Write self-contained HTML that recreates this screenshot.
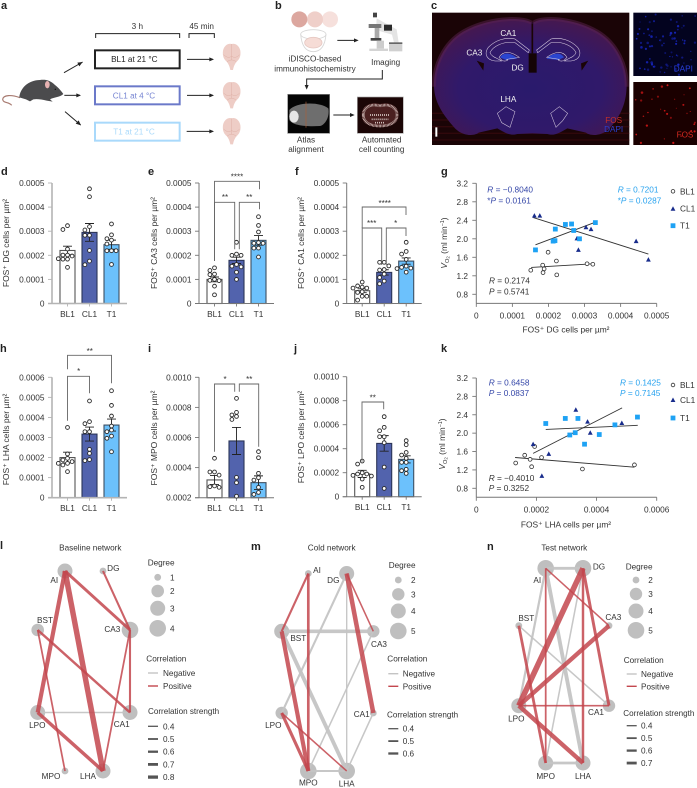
<!DOCTYPE html>
<html lang="en">
<head>
<meta charset="utf-8">
<title>FOS expression figure</title>
<style>
html,body{margin:0;padding:0;background:#fff;width:697px;height:788px;overflow:hidden}
svg{display:block;font-family:"Liberation Sans",Arial,sans-serif}
text{fill:#333}
.pl{font-weight:bold;font-size:11px;fill:#222}
</style>
</head>
<body>
<svg id="fig" xmlns="http://www.w3.org/2000/svg" width="697" height="788" viewBox="0 0 697 788">
<defs>
  <g id="brain">
    <path d="M0,-38C-8,-41-22,-36-26,-18C-28,-2-24,8-14,16C-10,22-6,28-4,40L4,40C6,28 10,22 14,16C24,8 28,-2 26,-18C22,-36 8,-41 0,-38Z" fill="#eecdc6"/>
    <path d="M0,-38L0,10M-24,-6C-14,4-6,4 0,-2C6,4 14,4 24,-6M-14,16C-6,8 6,8 14,16" fill="none" stroke="#deb0a6" stroke-width="1.5"/>
  </g>
  <radialGradient id="brainGrad" cx="50%" cy="60%" r="62%">
    <stop offset="0" stop-color="#2a1a6c"/><stop offset="0.6" stop-color="#30196a"/><stop offset="1" stop-color="#47184e"/>
  </radialGradient>
</defs>

<text class="pl" x="1" y="9">a</text>
<text class="pl" x="275" y="9">b</text>
<text class="pl" x="431" y="9">c</text>

<!-- Panel a -->
<g transform="scale(0.33333)">
  <g>
    <path d="M60,293C35,284 10,284 8,298C10,311 26,304 35,316" fill="none" stroke="#a87a70" stroke-width="3.5"/>
    <path d="M58,292C60,265 85,240 120,240C135,238 150,240 165,255C175,262 185,275 190,282C180,292 160,292 150,298L158,305L140,302C125,298 110,296 100,298L90,304L78,298Z" fill="#4b4b4d"/>
    <ellipse cx="142" cy="254" rx="7" ry="11" fill="#e6b1b1"/>
    <circle cx="166" cy="268" r="2" fill="#111"/>
  </g>
  <path d="M192,218L248,186" stroke="#222" stroke-width="3" fill="none"/><path d="M248,186L232,188L238,199Z" fill="#222"/>
  <path d="M193,286L240,286" stroke="#222" stroke-width="3" fill="none"/><path d="M243,286L229,280L229,292Z" fill="#222"/>
  <path d="M195,335L242,375" stroke="#222" stroke-width="3" fill="none"/><path d="M243,376L236,361L227,371Z" fill="#222"/>
  <path d="M287,114V101H539V114" fill="none" stroke="#222" stroke-width="3"/>
  <path d="M567,114V101H643V114" fill="none" stroke="#222" stroke-width="3"/>
  <text x="412" y="87" font-size="24.6" text-anchor="middle">3 h</text>
  <text x="605" y="87" font-size="24.6" text-anchor="middle">45 min</text>
  <rect x="285" y="151" width="254" height="54" fill="#fff" stroke="#222" stroke-width="6"/>
  <rect x="285" y="259" width="254" height="54" fill="#fff" stroke="#6b79c9" stroke-width="6"/>
  <rect x="285" y="368" width="254" height="54" fill="#fff" stroke="#a9d9fb" stroke-width="6"/>
  <text x="403" y="186" font-size="24.6" text-anchor="middle" style="fill:#222">BL1 at 21 °C</text>
  <text x="402" y="296" font-size="24.6" text-anchor="middle" style="fill:#7785d2">CL1 at 4 °C</text>
  <text x="402" y="404" font-size="24.6" text-anchor="middle" style="fill:#aadafb">T1 at 21 °C</text>
  <path d="M561,178H638" stroke="#222" stroke-width="3"/><path d="M642,178L628,172V184Z" fill="#222"/>
  <path d="M561,286H638" stroke="#222" stroke-width="3"/><path d="M642,286L628,280V292Z" fill="#222"/>
  <path d="M560,394H638" stroke="#222" stroke-width="3"/><path d="M642,394L628,388V400Z" fill="#222"/>
  <use href="#brain" x="695" y="170"/>
  <use href="#brain" x="695" y="285"/>
  <use href="#brain" x="695" y="393"/>
</g>

<!-- Panel b -->
<g transform="scale(0.33333)">
  <g>
    <circle cx="990" cy="58" r="24" fill="#f6e0dc"/><circle cx="945" cy="58" r="24" fill="#efcfc9"/><circle cx="898" cy="58" r="24" fill="#dca79f"/>
  </g>
  <g fill="none" stroke="#d6d6d6" stroke-width="2.5">
    <ellipse cx="940" cy="103" rx="38" ry="14"/><path d="M902,103C905,140 920,155 940,155C960,155 975,140 978,103"/>
    <ellipse cx="940" cy="128" rx="26" ry="16" fill="#f6dcd6" stroke="#e6c8c2"/>
  </g>
  <text x="945" y="185" font-size="24.6" text-anchor="middle">iDISCO-based</text>
  <text x="945" y="214" font-size="24.6" text-anchor="middle">immunohistochemistry</text>
  <path d="M1012,121H1072" stroke="#222" stroke-width="3"/><path d="M1076,121L1062,115V127Z" fill="#222"/>
  <g>
    <path d="M1130,55L1190,88L1196,128L1182,128L1176,104L1128,90Z" fill="#e4e4e4"/>
    <rect x="1119" y="38" width="12" height="14" fill="#444"/>
    <rect x="1152" y="74" width="24" height="18" fill="#2a2a2a"/>
    <rect x="1106" y="72" width="38" height="12" fill="#777"/>
    <rect x="1124" y="84" width="14" height="30" fill="#aaa"/>
    <rect x="1112" y="114" width="32" height="8" fill="#444"/>
    <rect x="1130" y="122" width="22" height="24" fill="#ccc"/>
    <rect x="1108" y="146" width="56" height="7" fill="#d4d4d4"/>
    <rect x="1167" y="130" width="40" height="24" fill="#d0d0d0"/><rect x="1167" y="127" width="40" height="5" fill="#666"/>
  </g>
  <text x="1157" y="195" font-size="24.6" text-anchor="middle">Imaging</text>
  <path d="M1147,210V237H920V264" fill="none" stroke="#222" stroke-width="3"/><path d="M920,269L914,255H926Z" fill="#222"/>
  <g>
    <rect x="863" y="283" width="126" height="117" fill="#050505" stroke="#888" stroke-width="2"/>
    <path d="M868,330C890,305 960,305 985,325C990,350 975,375 960,378C920,380 880,378 868,360Z" fill="#6e6e6e"/>
    <ellipse cx="882" cy="350" rx="14" ry="18" fill="#e6e6e6"/>
    <rect x="917" y="305" width="2" height="78" fill="#a8603a"/>
  </g>
  <text x="918" y="428" font-size="24.6" text-anchor="middle">Atlas</text>
  <text x="918" y="456" font-size="24.6" text-anchor="middle">alignment</text>
  <path d="M1000,345H1060" stroke="#222" stroke-width="3"/><path d="M1064,345L1050,339V351Z" fill="#222"/>
  <g>
    <rect x="1072" y="291" width="138" height="109" fill="#1b0606" stroke="#aaa" stroke-width="2"/>
    <path d="M1085,345C1085,315 1115,305 1140,312C1165,305 1196,315 1196,345C1196,370 1170,382 1140,382C1110,382 1085,370 1085,345Z" fill="#4a2020"/>
    <path d="M1090,345C1090,320 1115,310 1140,318C1165,310 1191,320 1191,345C1191,368 1168,378 1140,378C1112,378 1090,368 1090,345Z" fill="none" stroke="#d8c8c4" stroke-width="8" stroke-dasharray="2 2"/>
    <path d="M1110,345H1170M1115,358H1165M1125,368H1155" stroke="#d0c0bc" stroke-width="5" stroke-dasharray="3 3"/>
  </g>
  <text x="1145" y="428" font-size="24.6" text-anchor="middle">Automated</text>
  <text x="1145" y="456" font-size="24.6" text-anchor="middle">cell counting</text>
</g>

<!-- Panel c -->
<g transform="translate(420,0) scale(0.33333)">
  <rect x="36" y="38" width="592" height="397" fill="#1a0406"/>
  <path d="M36,340H628M36,360H628M36,380H628M36,400H628M36,420H628" stroke="#3a0a0e" stroke-width="4" opacity="0.7"/>
  <path d="M335,68C300,48 200,55 130,95C70,130 40,200 42,260C44,310 70,345 105,385C130,410 165,408 176,398L232,385C258,400 272,408 292,402L337,400L382,402C402,408 416,400 442,385L498,398C509,408 544,410 569,385C604,345 618,310 620,260C622,200 592,130 532,95C462,55 370,48 340,68Z" fill="url(#brainGrad)"/>
  <path d="M335,68C300,48 200,55 130,95C70,130 40,200 42,260M340,68C370,48 462,55 532,95C592,130 622,200 620,260" fill="none" stroke="#5a2250" stroke-width="12" opacity="0.5"/>
  <path d="M337,70V160" stroke="#1a0406" stroke-width="5"/>
  <path d="M170,182L190,212L192,190ZM505,182L485,212L483,190Z" fill="#1a0406"/>
  <path d="M326,160V218H350V160Z" fill="#140406"/>
  <path d="M240,172C250,155 275,158 292,176L258,180Z" fill="#2a45d0"/>
  <path d="M432,172C422,155 397,158 380,176L414,180Z" fill="#2a45d0"/>
  <g fill="none" stroke="#d8cce0" stroke-width="1.6">
    <path d="M328,150L285,117C255,110 225,122 205,142C192,160 198,180 225,183L245,183C235,175 215,172 210,158C218,140 250,122 285,128L325,158Z"/>
    <path d="M237,172C250,150 275,155 298,172L260,178C270,182 250,186 245,180Z"/>
    <path d="M350,150L393,117C423,110 453,122 473,142C486,160 480,180 453,183L433,183C443,175 463,172 468,158C460,140 428,122 393,128L353,158Z"/>
    <path d="M441,172C428,150 403,155 380,172L418,178C408,182 428,186 433,180Z"/>
  </g>
  <g fill="none" stroke="#d8cce0" stroke-width="1.6">
    <path d="M232,340L258,320L285,335L270,382L245,368Z"/><path d="M443,340L418,320L392,340L408,382L428,362Z"/>
  </g>
  <text x="265" y="108" font-size="24.6" text-anchor="middle" style="fill:#f2f2f2">CA1</text>
  <text x="163" y="167" font-size="24.6" text-anchor="middle" style="fill:#f2f2f2">CA3</text>
  <text x="293" y="211" font-size="24.6" text-anchor="middle" style="fill:#f2f2f2">DG</text>
  <text x="265" y="306" font-size="24.6" text-anchor="middle" style="fill:#f2f2f2">LHA</text>
  <text x="581" y="369" font-size="24.6" text-anchor="middle" style="fill:#c4302a">FOS</text>
  <text x="581" y="396" font-size="24.6" text-anchor="middle" style="fill:#2a40cc">DAPI</text>
  <rect x="46" y="382" width="6" height="28" fill="#fff"/>
  <rect x="640" y="38" width="191" height="190" fill="#03031f"/>
  <rect x="640" y="246" width="191" height="189" fill="#1a0000"/>
  <g id="dapiDots" fill="#1a2ad0"></g>
  <g id="fosDots" fill="#e01818"></g>
  <text x="790" y="215" font-size="24.6" text-anchor="middle" style="fill:#2a40e0">DAPI</text>
  <text x="795" y="412" font-size="24.6" text-anchor="middle" style="fill:#d42a20">FOS</text>
</g>
<g id="charts"></g>
</svg>

<script>
// ---------- bar chart data (values in units of 1e-4 cells per µm²) ----------
const categories = ['BL1', 'CL1', 'T1'];
const ticks0to5 = ['0', '0.0001', '0.0002', '0.0003', '0.0004', '0.0005'];
const ticks0to6 = ['0', '0.0001', '0.0002', '0.0003', '0.0004', '0.0005', '0.0006'];
const ticks2to10 = ['0.0002', '0.0004', '0.0006', '0.0008', '0.0010'];
const ticks0to10 = ['0', '0.0002', '0.0004', '0.0006', '0.0008', '0.0010'];

const dBL1 = [3.23, 3.07, 2.26, 2.01, 1.97, 2.01, 1.86, 1.84, 1.84, 1.5];
const dCL1 = [4.76, 4.43, 3.19, 3.05, 2.83, 2.83, 2.2, 1.76, 1.61];
const dT1 = [3.3, 2.85, 2.69, 2.63, 2.47, 2.19, 2.19, 2.19, 1.62];
const dMeans = [2.2, 2.95, 2.44];
const dSem = [0.18, 0.37, 0.19];

const eBL1 = [1.48, 1.37, 1.22, 1.2, 1.0, 0.96, 0.95, 0.72, 0.36];
const eCL1 = [2.54, 2.05, 2.0, 2.0, 1.62, 1.55, 1.52, 1.3, 1.0];
const eT1 = [3.6, 3.24, 2.97, 2.53, 2.5, 2.5, 2.3, 2.3, 1.93];
const eMeans = [1.0, 1.79, 2.62];
const eSem = [0.1, 0.13, 0.2];

const fBL1 = [0.89, 0.73, 0.68, 0.64, 0.64, 0.49, 0.46, 0.3, 0.3, 0.14];
const fCL1 = [1.71, 1.71, 1.56, 1.41, 1.39, 1.22, 1.08, 0.93, 0.82];
const fT1 = [2.54, 2.16, 2.05, 1.83, 1.55, 1.5, 1.47, 1.45, 1.3];
const fMeans = [0.53, 1.29, 1.76];
const fSem = [0.08, 0.11, 0.13];

const hBL1 = [3.5, 2.18, 1.96, 1.88, 1.8, 1.71, 1.71, 1.63, 1.3];
const hCL1 = [4.82, 3.79, 3.69, 3.29, 3.29, 2.41, 2.21, 1.9, 1.85];
const hT1 = [5.33, 4.6, 4.07, 3.57, 3.37, 3.29, 3.07, 2.96, 2.29];
const hMeans = [2.0, 3.17, 3.62];
const hSem = [0.27, 0.35, 0.3];

const iBL1 = [4.62, 3.71, 3.71, 3.5, 2.78, 2.73, 2.69];
const iCL1 = [8.6, 7.67, 7.5, 7.4, 7.2, 3.35, 3.0, 2.1];
const iT1 = [5.06, 4.66, 3.62, 3.33, 3.17, 2.69, 2.35, 2.22];
const iMeans = [3.18, 5.77, 3.0];
const iSem = [0.3, 0.9, 0.45];

const jBL1 = [2.97, 2.72, 2.0, 1.89, 1.89, 1.78, 1.72, 1.47, 0.78];
const jCL1 = [6.67, 5.78, 5.5, 5.0, 5.0, 4.5, 2.47, 0.69];
const jT1 = [4.67, 4.33, 3.69, 3.47, 3.2, 2.86, 2.86, 2.28, 2.17, 1.94];
const jMeans = [1.9, 4.44, 3.11];
const jSem = [0.3, 0.65, 0.3];

// ---------- scatter data ----------
const yTicksV = ['0.8', '1.2', '1.6', '2.0', '2.4', '2.8', '3.2'];
const gXTicks = ['0', '0.0001', '0.0002', '0.0003', '0.0004', '0.0005'];
const kXTicks = ['0', '0.0002', '0.0004', '0.0006'];

const gBL1x = [0.000151, 0.000184, 0.000188, 0.000185, 0.000199, 0.000222, 0.000223, 0.000307, 0.000323];
const gBL1y = [1.32, 1.43, 1.35, 1.27, 1.71, 1.52, 1.22, 1.46, 1.45];
const gCL1x = [0.000161, 0.000176, 0.000279, 0.000283, 0.000304, 0.000318, 0.000443, 0.000477];
const gCL1y = [2.5, 2.5, 2.01, 1.76, 2.25, 2.21, 1.95, 1.55];
const gT1x = [0.000164, 0.000213, 0.000218, 0.000219, 0.000247, 0.000264, 0.00027, 0.000286, 0.00033];
const gT1y = [1.76, 1.95, 1.96, 2.21, 2.31, 2.32, 2.18, 2.0, 2.35];
const gFitBL1 = [0.000152, 1.38, 0.000323, 1.46];
const gFitCL1 = [0.000158, 2.46, 0.000477, 1.67];
const gFitT1 = [0.000164, 1.87, 0.00033, 2.36];

const kBL1x = [0.000131, 0.000161, 0.000179, 0.000184, 0.000194, 0.000217, 0.000353, 0.000526];
const kBL1y = [1.35, 1.52, 1.43, 1.27, 1.71, 1.47, 1.22, 1.31];
const kCL1x = [0.000189, 0.000218, 0.000241, 0.000331, 0.00037, 0.000379, 0.000484];
const kCL1y = [1.76, 1.07, 1.55, 2.51, 2.25, 2.01, 2.22];
const kT1x = [0.000231, 0.000296, 0.000311, 0.000329, 0.000338, 0.00036, 0.000409, 0.000461, 0.000536];
const kT1y = [2.21, 2.32, 1.96, 2.01, 2.32, 1.76, 1.97, 2.18, 2.35];
const kFitBL1 = [0.000129, 1.47, 0.000526, 1.26];
const kFitCL1 = [0.000189, 1.56, 0.000485, 2.55];
const kFitT1 = [0.000231, 2.08, 0.000537, 2.17];

// ---------- network data ----------
const regions = ['AI', 'DG', 'BST', 'CA3', 'LPO', 'CA1', 'MPO', 'LHA'];
const lDegree = [3, 1, 2, 4, 3, 3, 1, 3];
const mDegree = [2, 4, 4, 3, 3, 2, 5, 5];
const nDegree = [5, 5, 2, 2, 4, 3, 4, 4];
const lEdges = [['LPO','CA1',-0.4],['AI','LHA',0.98],['AI','LPO',0.8],['AI','CA3',0.62],['DG','CA3',0.5],['BST','CA1',0.55],['BST','MPO',0.45],['CA3','CA1',0.5],['CA3','LHA',0.45],['LPO','LHA',0.7]];
const mEdges = [['DG','LPO',-0.5],['DG','LHA',-0.4],['BST','CA3',-0.72],['BST','LHA',-0.75],['CA3','MPO',-0.42],['CA1','LHA',-0.42],['MPO','LHA',-0.5],['AI','BST',0.5],['AI','MPO',0.58],['DG','CA3',0.42],['DG','CA1',0.85],['BST','MPO',0.8],['LPO','MPO',0.65],['LPO','LHA',0.42]];
const nEdges = [['AI','DG',-0.6],['AI','LPO',-0.52],['AI','LHA',-0.75],['DG','MPO',-0.42],['BST','CA1',-0.42],['MPO','LHA',-0.6],['AI','MPO',0.45],['AI','CA3',0.42],['DG','LPO',1.0],['DG','LHA',0.55],['DG','CA1',0.62],['BST','MPO',0.6],['CA3','LPO',0.82],['LPO','CA1',0.42],['LPO','LHA',0.82]];

// ---------- helpers ----------
const SVGNS = 'http://www.w3.org/2000/svg';
const root = document.getElementById('charts');
function mk(tag, attrs, name, parent, interact) {
  const el = document.createElementNS(SVGNS, tag);
  for (const k in attrs) el.setAttributeNS(null, k, attrs[k]);
  
  
  (parent || root).appendChild(el);
  return el;
}
function T(p, x, y, s, name, o) {
  o = o || {};
  const a = {x: x, y: y, 'font-size': o.size || 8.3, 'text-anchor': o.anchor || 'start'};
  if (o.rot) a.transform = 'rotate(-90 ' + x + ' ' + y + ')';
  if (o.bold) a['font-weight'] = 'bold';
  const el = mk('text', a, name, p);
  if (o.color) el.style.fill = o.color;
  if (o.rich) el.innerHTML = s; else el.textContent = s;
  return el;
}
const tickToUnit = t => parseFloat(t) * 1e4;

function swarm(vals, cx, scale) {
  const spacing = 4.6, minD = 3.9, placed = [];
  const sorted = vals.slice().sort((a, b) => b - a);
  sorted.forEach(v => {
    const y = scale(v);
    for (const off of [0, -spacing, spacing, -spacing * 2, spacing * 2]) {
      const x = cx + off;
      if (!placed.some(p => Math.hypot(p.x - x, p.y - y) < minD)) { placed.push({x: x, y: y}); return; }
    }
    placed.push({x: cx, y: y});
  });
  return placed;
}

function barChart(c) {
  const g = mk('g', {}, 'bar-chart-' + c.id);
  const dom = c.ticks.map(tickToUnit);
  const dMin = dom[0], dMax = dom[dom.length - 1];
  const sy = v => c.y0 - (v - dMin) / (dMax - dMin) * (c.y0 - c.yTop);
  const sx = i => c.ax + 15.5 + i * 22;
  const axCol = c.light ? '#b4b4b4' : '#777', axW = c.light ? 1.6 : 1;
  categories.forEach((cat, i) => {
    const top = sy(c.means[i]);
    const fills = ['#ffffff', '#5263ad', '#6cc1fc'];
    const strokes = ['#555', '#2c3558', '#3e4f62'];
    mk('rect', {x: sx(i) - 7.5, y: top, width: 15, height: c.y0 - top, fill: fills[i], stroke: strokes[i], 'stroke-width': 1.1}, 'bar-' + c.id + '-' + cat, g);
  });
  mk('line', {x1: c.ax, x2: c.ax, y1: c.yTop, y2: c.y0, stroke: axCol, 'stroke-width': axW}, 'y-axis-' + c.id, g);
  mk('line', {x1: c.ax - 4, x2: c.ax + 75, y1: c.y0, y2: c.y0, stroke: axCol, 'stroke-width': axW}, 'x-axis-' + c.id, g);
  c.ticks.forEach((t, i) => {
    const y = sy(dom[i]);
    mk('line', {x1: c.ax - 4, x2: c.ax, y1: y, y2: y, stroke: axCol, 'stroke-width': 0.9}, 'y-tick-' + c.id, g);
    T(g, c.ax - 7.5, y + 3, t, 'y-tick-label-' + c.id, {anchor: 'end'});
  });
  categories.forEach((cat, i) => {
    mk('line', {x1: sx(i), x2: sx(i), y1: c.y0, y2: c.y0 + 3, stroke: axCol, 'stroke-width': 0.9}, 'x-tick-' + c.id, g);
    T(g, sx(i), c.y0 + 13.5, cat, 'x-tick-label-' + c.id, {anchor: 'middle'});
    const e = sy(c.means[i] + c.sem[i]), b = sy(c.means[i] - c.sem[i]);
    mk('path', {d: 'M' + (sx(i) - 4.5) + ',' + e + 'H' + (sx(i) + 4.5) + 'M' + sx(i) + ',' + e + 'V' + b + 'M' + (sx(i) - 4.5) + ',' + b + 'H' + (sx(i) + 4.5), fill: 'none', stroke: '#222', 'stroke-width': 0.9}, 'error-bar-' + c.id + '-' + cat, g);
    swarm(c.series[i], sx(i), sy).forEach(p => {
      mk('circle', {cx: p.x, cy: p.y, r: 1.9, fill: '#fff', stroke: '#2a2a2a', 'stroke-width': 0.9}, 'data-point-' + c.id + '-' + cat, g);
    });
  });
  T(g, c.titleX, c.titleY, c.title, 'y-axis-title-' + c.id, {anchor: 'middle', rot: true, size: 8.5});
  (c.brackets || []).forEach(b => {
    mk('path', {d: 'M' + b[0] + ',' + b[3] + 'V' + b[2] + 'H' + b[1] + 'V' + b[4], fill: 'none', stroke: '#666', 'stroke-width': 0.9}, 'significance-bracket-' + c.id, g);
  });
  (c.stars || []).forEach(s => {
    T(g, s[0], s[1] + 4.2, s[2], 'significance-label-' + c.id, {anchor: 'middle', size: 8});
  });
}

function scatter(c) {
  const g = mk('g', {}, 'scatter-' + c.id);
  const sx = v => 476.3 + v / c.xMax * 180.4;
  const sy = v => c.y08 - (v - 0.8) / 2.4 * (c.y08 - c.y32);
  const yBottom = c.yBottom;
  mk('line', {x1: 476.3, x2: 476.3, y1: c.y32, y2: yBottom, stroke: '#777', 'stroke-width': 1}, 'y-axis-' + c.id, g);
  mk('line', {x1: 476.3, x2: 656.7, y1: yBottom, y2: yBottom, stroke: '#777', 'stroke-width': 1}, 'x-axis-' + c.id, g);
  yTicksV.forEach(t => {
    const y = sy(parseFloat(t));
    mk('line', {x1: 472.3, x2: 476.3, y1: y, y2: y, stroke: '#777', 'stroke-width': 0.9}, 'y-tick-' + c.id, g);
    T(g, 468, y + 3, t, 'y-tick-label-' + c.id, {anchor: 'end'});
  });
  c.xTicks.forEach(t => {
    const x = sx(parseFloat(t));
    mk('line', {x1: x, x2: x, y1: yBottom, y2: yBottom + 3.5, stroke: '#777', 'stroke-width': 0.9}, 'x-tick-' + c.id, g);
    T(g, x, yBottom + 15, t, 'x-tick-label-' + c.id, {anchor: 'middle'});
  });
  T(g, 566, yBottom + c.titleGap, c.xTitle, 'x-axis-title-' + c.id, {anchor: 'middle', size: 8.4});
  T(g, c.yTitleX, c.yTitleY, '<tspan font-style="italic">V</tspan><tspan font-size="5.6" dy="1.8">O</tspan><tspan font-size="4.4" dy="0.8">2</tspan><tspan dy="-2.6"> (ml min</tspan><tspan font-size="5.4" dy="-2.8">−1</tspan><tspan dy="2.8">)</tspan>', 'y-axis-title-' + c.id, {anchor: 'middle', rot: true, size: 8.4, rich: true});
  [c.fitBL1, c.fitCL1, c.fitT1].forEach((f, i) => {
    mk('line', {x1: sx(f[0]), y1: sy(f[1]), x2: sx(f[2]), y2: sy(f[3]), stroke: '#333', 'stroke-width': 0.9}, 'trend-line-' + c.id + '-' + categories[i], g);
  });
  c.bl1x.forEach((v, i) => {
    mk('circle', {cx: sx(v), cy: sy(c.bl1y[i]), r: 1.9, fill: '#fff', stroke: '#333', 'stroke-width': 0.8}, 'point-' + c.id + '-BL1', g);
  });
  c.cl1x.forEach((v, i) => {
    const x = sx(v), y = sy(c.cl1y[i]);
    mk('path', {d: 'M' + x + ',' + (y - 2.5) + 'L' + (x + 2.4) + ',' + (y + 2) + 'H' + (x - 2.4) + 'Z', fill: '#182c8c'}, 'point-' + c.id + '-CL1', g);
  });
  c.t1x.forEach((v, i) => {
    mk('rect', {x: sx(v) - 2.4, y: sy(c.t1y[i]) - 2.4, width: 4.8, height: 4.8, fill: '#1ea2f4'}, 'point-' + c.id + '-T1', g);
  });
  c.notes.forEach(n => {
    T(g, n[0], n[1], n[2], 'annotation-' + c.id, {color: n[3], rich: true, size: 8.3});
  });
  const ly = c.legendY;
  mk('circle', {cx: 673, cy: ly[0], r: 1.8, fill: '#fff', stroke: '#333', 'stroke-width': 0.8}, 'legend-marker-BL1-' + c.id, g);
  mk('path', {d: 'M673,' + (ly[1] - 2.5) + 'L675.4,' + (ly[1] + 2) + 'H670.6Z', fill: '#182c8c'}, 'legend-marker-CL1-' + c.id, g);
  mk('rect', {x: 670.6, y: ly[2] - 2.4, width: 4.8, height: 4.8, fill: '#1ea2f4'}, 'legend-marker-T1-' + c.id, g);
  categories.forEach((cat, i) => {
    T(g, 680, ly[i] + 3, cat, 'legend-label-' + c.id + '-' + cat);
  });
}

const edgeWidth = s => 7 * (s - 0.2);
const legendWidth = s => 1.3 + (s - 0.4) * 5;

function network(c) {
  const g = mk('g', {}, 'network-' + c.id);
  const radii = c.radii;
  const pos = {};
  regions.forEach((r, i) => { pos[r] = {x: c.cols[c.colIdx[i]], y: c.rows[c.rowIdx[i]]}; });
  regions.forEach((r, i) => {
    mk('circle', {cx: pos[r].x, cy: pos[r].y, r: radii[c.degree[i]], fill: '#bfbfbf'}, 'node-' + c.id + '-' + r, g);
  });
  c.edges.forEach(e => {
    const a = pos[e[0]], b = pos[e[1]], neg = e[2] < 0;
    mk('line', {x1: a.x, y1: a.y, x2: b.x, y2: b.y, stroke: neg ? '#c4c4c4' : '#c3474e', 'stroke-opacity': neg ? 0.95 : 0.85, 'stroke-width': edgeWidth(Math.abs(e[2]))}, 'edge-' + c.id + '-' + e[0] + '-' + e[1], g);
  });
  regions.forEach((r, i) => {
    T(g, c.labels[i][0], c.labels[i][1] + 2.8, r, 'node-label-' + c.id + '-' + r, {anchor: 'middle', size: 8.2});
  });
  T(g, c.titleX, c.titleY, c.title, 'network-title-' + c.id, {anchor: 'middle', size: 8.2});
  const L = c.legend;
  T(g, L.degX, L.degY, 'Degree', 'degree-legend-title-' + c.id, {size: 8.2});
  c.degreeLevels.forEach((d, i) => {
    mk('circle', {cx: L.cX, cy: L.cY[i], r: radii[d], fill: '#bfbfbf'}, 'degree-legend-circle-' + c.id, g);
    T(g, L.cLabelX, L.cY[i] + 3, String(d), 'degree-legend-label-' + c.id, {size: 8.2});
  });
  T(g, L.corX, L.corY, 'Correlation', 'correlation-legend-title-' + c.id, {size: 8.2});
  mk('line', {x1: L.lineX, x2: L.lineX + 10, y1: L.negY, y2: L.negY, stroke: '#c4c4c4', 'stroke-width': 1.4}, 'negative-legend-line-' + c.id, g);
  mk('line', {x1: L.lineX, x2: L.lineX + 10, y1: L.posY, y2: L.posY, stroke: '#c3474e', 'stroke-width': 1.4}, 'positive-legend-line-' + c.id, g);
  T(g, L.textX, L.negY + 3, 'Negative', 'negative-legend-label-' + c.id, {size: 8.2});
  T(g, L.textX, L.posY + 3, 'Positive', 'positive-legend-label-' + c.id, {size: 8.2});
  T(g, L.strX, L.strY, 'Correlation strength', 'strength-legend-title-' + c.id, {size: 8.1});
  c.strengthLevels.forEach((s, i) => {
    const y = L.sY0 + i * L.sDy;
    mk('line', {x1: L.lineX, x2: L.lineX + 10, y1: y, y2: y, stroke: '#555', 'stroke-width': legendWidth(s)}, 'strength-legend-line-' + c.id, g);
    T(g, L.textX, y + 3, s.toFixed(1), 'strength-legend-label-' + c.id, {size: 8.2});
  });
}

// ---------- panel labels ----------
[['d',1,175],['e',148,175],['f',295,175],['g',441,175],['h',0,352],['i',148,352],['j',294,352],['k',441,352],['l',0,549],['m',251,550],['n',487,550]].forEach(p => {
  T(root, p[1], p[2], p[0], 'panel-label-' + p[0], {bold: true, size: 11, color: '#222'});
});

// ---------- bar charts ----------
barChart({id:'d', ax:52, y0:303.5, yTop:183, ticks:ticks0to5, series:[dBL1,dCL1,dT1], means:dMeans, sem:dSem, light:true, title:'FOS⁺ DG cells per µm²', titleX:9, titleY:243});
barChart({id:'e', ax:199, y0:303.5, yTop:183, ticks:ticks0to5, series:[eBL1,eCL1,eT1], means:eMeans, sem:eSem, title:'FOS⁺ CA3 cells per µm²', titleX:157, titleY:243,
  brackets:[[214.5,259.5,181.3,261,189.3],[214.5,234.7,202.3,261,249.3],[239.3,259.5,202.3,249.3,209.3]],
  stars:[[237,175.3,'****'],[225,195.7,'**'],[249.3,195.7,'**']]});
barChart({id:'f', ax:346.7, y0:303.5, yTop:183, ticks:ticks0to5, series:[fBL1,fCL1,fT1], means:fMeans, sem:fSem, title:'FOS⁺ CA1 cells per µm²', titleX:304, titleY:243,
  brackets:[[362.2,406,207,228,215],[362.2,381.7,228,280.7,265],[386.3,406,228,265,236]],
  stars:[[384.7,202,'****'],[371.7,222,'***'],[395.7,222,'*']]});
barChart({id:'h', ax:52, y0:497.7, yTop:377.3, ticks:ticks0to6, series:[hBL1,hCL1,hT1], means:hMeans, sem:hSem, light:true, title:'FOS⁺ LHA cells per µm²', titleX:9, titleY:439.5,
  brackets:[[67.5,111.5,355.3,369.3,383.3],[67.5,89.5,376.3,420.7,393.3]],
  stars:[[89.7,349.7,'**'],[78.7,370,'*']]});
barChart({id:'i', ax:199, y0:497.7, yTop:377.3, ticks:ticks2to10, series:[iBL1,iCL1,iT1], means:iMeans, sem:iSem, title:'FOS⁺ MPO cells per µm²', titleX:157, titleY:438,
  brackets:[[214.5,234.7,384,451.7,391.7],[239.3,258.7,384,391.7,446.7]],
  stars:[[225,378,'*'],[249.3,378,'**']]});
barChart({id:'j', ax:346.7, y0:496.7, yTop:376.7, ticks:ticks0to10, series:[jBL1,jCL1,jT1], means:jMeans, sem:jSem, title:'FOS⁺ LPO cells per µm²', titleX:304, titleY:437,
  brackets:[[362,383.7,402,461.7,409.3]],
  stars:[[372.7,396.3,'**']]});

// ---------- scatters ----------
const BLUE1 = '#3547a8', BLUE2 = '#29a3ef', DK = '#333';
const R = '<tspan font-style="italic">R</tspan>', P = '<tspan font-style="italic">P</tspan>';
scatter({id:'g', xMax:0.0005, y08:294.3, y32:183.3, yBottom:303.4, xTicks:gXTicks, xTitle:'FOS⁺ DG cells per µm²', titleGap:29, yTitleX:447, yTitleY:243,
  bl1x:gBL1x, bl1y:gBL1y, cl1x:gCL1x, cl1y:gCL1y, t1x:gT1x, t1y:gT1y, fitBL1:gFitBL1, fitCL1:gFitCL1, fitT1:gFitT1, legendY:[191.3,208.7,225.7],
  notes:[[487.3,192.7,R+' = −0.8040',BLUE1],[487.3,203.5,'*'+P+' = 0.0161',BLUE1],[617.7,192.7,R+' =  0.7201',BLUE2],[617.7,203.5,'*'+P+' = 0.0287',BLUE2],[489,283.3,R+' = 0.2174',DK],[489,294.3,P+' = 0.5741',DK]]});
scatter({id:'k', xMax:0.0006, y08:488.3, y32:378, yBottom:497.3, xTicks:kXTicks, xTitle:'FOS⁺ LHA cells per µm²', titleGap:30, yTitleX:445, yTitleY:444,
  bl1x:kBL1x, bl1y:kBL1y, cl1x:kCL1x, cl1y:kCL1y, t1x:kT1x, t1y:kT1y, fitBL1:kFitBL1, fitCL1:kFitCL1, fitT1:kFitT1, legendY:[385,400,418],
  notes:[[488.7,385.7,R+' = 0.6458',BLUE1],[488.7,396,P+' = 0.0837',BLUE1],[620,385.7,R+' = 0.1425',BLUE2],[620,396,P+' = 0.7145',BLUE2],[488.7,481,R+' = −0.4010',DK],[488.7,491,P+' = 0.3252',DK]]});

// ---------- networks ----------
const colIdx = [1, 2, 0, 3, 0, 3, 1, 2];
const rowIdx = [0, 0, 1, 1, 2, 2, 3, 3];
network({id:'l', title:'Baseline network', titleX:90.3, titleY:550.7, degree:lDegree, edges:lEdges, colIdx:colIdx, rowIdx:rowIdx,
  cols:[37.7,65,103,130], rows:[571,630,712.5,771], radii:{1:3.4,2:6.3,3:7.5,4:8.3}, degreeLevels:[1,2,3,4], strengthLevels:[0.4,0.5,0.6,0.7,0.8],
  labels:[[54.3,580],[113.3,568.3],[45,620],[112.3,629],[37.3,725.3],[121.7,724],[51,776],[88,776]],
  legend:{degX:147.7,degY:565.3,cX:157.7,cY:[577.3,591,608.3,628.3],cLabelX:170,corX:146.3,corY:661.3,lineX:148,negY:673,posY:686,textX:163,strX:148,strY:714,sY0:726.3,sDy:12.7}});
network({id:'m', title:'Cold network', titleX:331.7, titleY:550.5, degree:mDegree, edges:mEdges, colIdx:colIdx, rowIdx:rowIdx,
  cols:[281.7,308.3,346.7,373.3], rows:[573.5,631.3,713,771], radii:{2:3.4,3:6.2,4:7.5,5:8.3}, degreeLevels:[2,3,4,5], strengthLevels:[0.4,0.5,0.6],
  labels:[[317,570],[333.3,580],[298.3,638.3],[379,644],[273.3,725],[361.7,714],[308.3,782.5],[346.7,783.5]],
  legend:{degX:388.7,degY:568,cX:398.3,cY:[580,594.3,611,631],cLabelX:411,corX:387.3,corY:661.7,lineX:388.3,negY:673.7,posY:686.3,textX:402.7,strX:387,strY:717.3,sY0:728.7,sDy:12.4}});
network({id:'n', title:'Test network', titleX:564.3, titleY:550.5, degree:nDegree, edges:nEdges, colIdx:colIdx, rowIdx:rowIdx,
  cols:[518.8,545.7,583,609], rows:[568.3,625.7,705.7,763], radii:{2:3.4,3:6.2,4:7.5,5:8.3}, degreeLevels:[2,3,4,5], strengthLevels:[0.4,0.5,0.6,0.7],
  labels:[[537.3,580],[599,566.7],[526.3,618.3],[613.3,617.3],[516.3,718.7],[596,712],[545.7,776],[583,776]],
  legend:{degX:625.7,degY:569.3,cX:636,cY:[580,594,611,630.3],cLabelX:648.3,corX:623.7,corY:663,lineX:626.7,negY:674,posY:686.3,textX:641,strX:623.3,strY:716,sY0:725.7,sDy:12.45}});

// ---------- micrograph nuclei (decorative image texture, not chart data) ----------
(function () {
  let s = 12345;
  const rnd = () => (s = (s * 1103515245 + 12345) & 0x7fffffff) / 0x7fffffff;
  const dapi = document.getElementById('dapiDots');
  for (let i = 0; i < 75; i++) {
    mk('circle', {cx: 642 + rnd() * 188, cy: 42 + rnd() * 184, r: 1.8 + rnd() * 2.2, opacity: 0.35 + rnd() * 0.5}, 'dapi-nucleus', dapi);
  }
  const fos = document.getElementById('fosDots');
  for (let i = 0; i < 32; i++) {
    mk('circle', {cx: 644 + rnd() * 184, cy: 250 + rnd() * 182, r: 1.6 + rnd() * 2.2, opacity: 0.5 + rnd() * 0.5}, 'fos-nucleus', fos);
  }
})();
</script>
</body>
</html>
